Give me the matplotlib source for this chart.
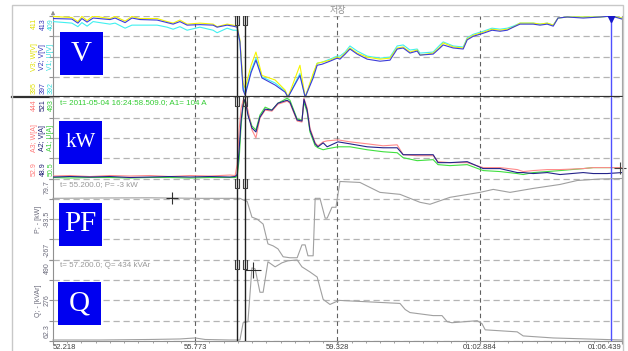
import matplotlib.pyplot as plt
import numpy as np
from matplotlib.patches import Rectangle
from matplotlib.path import Path
from matplotlib.ticker import FixedLocator

plt.rcParams['font.family'] = ['Liberation Sans', 'DejaVu Sans']

# time axis (seconds)
t_start, t_end = 52.218, 66.439
x_ticks = [52.218, 55.773, 59.328, 62.884, 66.439]
x_labels = ['52.218', '55.773', '59.328', '01:02.884', '01:06.439']
cursor_t = [56.82, 57.02]
blue_cursor_t = 66.17

# voltage panel (values on the V2 scale)
t_v = [52.218, 52.69, 52.84, 52.94, 53.07, 53.22, 53.64, 53.77, 54.02, 54.19, 54.39,
       54.82, 55.07, 55.22, 55.39, 55.57, 55.89, 56.22, 56.32, 56.57, 56.72, 56.82,
       56.89, 56.97, 57.02, 57.17, 57.29, 57.44, 57.77, 58.02, 58.09, 58.39,
       58.52, 58.72, 58.82, 58.94, 59.14, 59.32, 59.39, 59.52, 59.64, 59.82,
       60.07, 60.39, 60.64, 60.82, 60.97, 61.14, 61.32, 61.39, 61.72, 61.89,
       61.97, 62.22, 62.47, 62.57, 62.72, 62.97, 63.19, 63.39, 63.57, 63.72,
       63.89, 64.22, 64.39, 64.57, 64.72, 64.84, 65.07, 65.47, 65.89, 66.17, 66.439]
v3_w = [412.9, 412.7, 411.9, 412.9, 412.1, 413.0, 412.5, 412.9, 412.0, 412.9, 412.5,
        412.5, 411.9, 411.6, 412.2, 411.4, 411.6, 411.4, 410.9, 411.4, 411.2, 410.9,
        408.3, 399.8, 398.8, 403.3, 405.9, 401.3, 400.4, 398.4, 397.0, 403.3,
        397.0, 401.7, 403.7, 403.9, 404.3, 404.9, 404.7, 405.7, 406.7, 405.7,
        404.9, 404.5, 404.7, 406.7, 406.9, 405.9, 406.3, 405.3, 405.7, 406.9,
        407.7, 406.9, 406.7, 408.5, 409.2, 409.8, 410.4, 410.2, 410.4, 410.8,
        411.6, 411.6, 411.4, 411.6, 411.2, 412.6, 412.8, 412.8, 412.8, 413.0, 412.6]
v2_v = [412.5, 412.4, 411.6, 412.5, 411.8, 412.6, 412.3, 412.6, 411.7, 412.6, 412.3,
        412.2, 411.7, 411.4, 411.9, 411.2, 411.3, 411.2, 410.8, 411.2, 411.0, 410.8,
        407.9, 398.4, 397.4, 401.9, 404.3, 400.8, 399.4, 398.0, 397.0, 401.3,
        397.0, 400.8, 403.3, 403.5, 404.1, 404.7, 404.5, 405.5, 406.5, 405.5,
        404.5, 404.1, 404.3, 406.5, 406.7, 405.7, 406.1, 405.3, 405.5, 406.7,
        407.3, 406.7, 406.5, 408.3, 409.0, 409.6, 410.2, 410.0, 410.2, 410.8,
        411.4, 411.4, 411.2, 411.4, 411.0, 412.6, 412.8, 412.6, 412.8, 413.0, 412.4]
v1_u = [411.9, 411.6, 410.9, 411.7, 411.0, 411.9, 411.4, 411.6, 410.6, 411.2, 411.2,
        411.2, 410.8, 410.4, 410.9, 410.2, 410.8, 410.2, 409.7, 410.6, 410.2, 410.2,
        407.9, 398.8, 397.8, 402.3, 404.7, 401.0, 399.8, 398.2, 397.0, 401.7,
        397.0, 401.3, 403.7, 403.9, 404.5, 405.1, 405.1, 405.9, 407.1, 406.1,
        405.1, 404.7, 404.9, 407.1, 407.3, 406.3, 406.5, 405.7, 405.9, 407.3,
        407.9, 407.1, 406.9, 408.7, 409.4, 410.0, 410.6, 410.4, 410.6, 411.0,
        411.6, 411.6, 411.4, 411.6, 411.2, 412.6, 412.8, 412.8, 412.8, 413.0, 412.6]

# current / power panel (values on the A2 scale)
t_a = [52.218, 52.64, 53.14, 53.64, 54.14, 54.64, 55.14, 55.64, 56.14, 56.64, 56.77,
       56.82, 56.87, 56.92, 56.97, 57.02, 57.09, 57.19, 57.29, 57.39, 57.52,
       57.69, 57.84, 58.07, 58.14, 58.32, 58.44, 58.49, 58.57, 58.64, 58.77,
       58.84, 58.97, 59.07, 59.34, 59.64, 60.07, 60.47, 60.82, 60.97, 61.32,
       61.72, 61.84, 62.14, 62.57, 62.97, 63.39, 63.82, 63.97, 64.22, 64.57,
       64.89, 65.47, 65.72, 66.07, 66.439]
a3_w = [63.3, 66.2, 60.4, 66.2, 63.3, 66.2, 60.4, 66.2, 63.3, 69.0, 66.2,
        129.5, 331.0, 457.6, 503.7, 509.5, 446.1, 331.0, 284.9, 400.1, 446.1,
        440.4, 480.7, 498.0, 486.4, 382.8, 377.0, 515.2, 457.6, 342.5, 256.2,
        238.9, 261.9, 267.7, 273.4, 261.9, 250.4, 238.9, 244.6, 187.1, 181.3,
        181.3, 146.8, 141.0, 141.0, 112.2, 112.2, 100.7, 89.2, 95.0, 100.7,
        100.7, 106.5, 112.2, 112.2, 112.2]
a2_v = [57.5, 60.4, 57.5, 60.4, 54.7, 57.5, 60.4, 57.5, 60.4, 57.5, 60.4,
        71.9, 215.9, 388.6, 480.7, 509.5, 417.3, 342.5, 319.5, 405.8, 451.9,
        446.1, 486.4, 503.7, 492.2, 388.6, 382.8, 509.5, 446.1, 331.0, 250.4,
        233.1, 256.2, 233.1, 261.9, 250.4, 233.1, 227.4, 227.4, 187.1, 187.1,
        187.1, 141.0, 141.0, 146.8, 106.5, 106.5, 83.4, 83.4, 77.7, 83.4,
        71.9, 83.4, 77.7, 77.7, 83.4]
a1_u = [54.7, 51.8, 54.7, 54.7, 51.8, 54.7, 54.7, 51.8, 54.7, 54.7, 54.7,
        60.4, 158.3, 359.8, 474.9, 503.7, 428.9, 354.0, 331.0, 417.3, 463.4,
        446.1, 486.4, 515.2, 503.7, 394.3, 388.6, 492.2, 434.6, 319.5, 238.9,
        227.4, 215.9, 221.6, 233.1, 233.1, 215.9, 204.3, 198.6, 169.8, 152.5,
        158.3, 129.5, 123.7, 129.5, 95.0, 89.2, 77.7, 71.9, 83.4, 89.2,
        95.0, 106.5, 112.2, 112.2, 112.2]

# active power P [kW]
t_p = [52.218, 53.39, 54.64, 55.89, 56.64, 56.89, 56.99, 57.07, 57.19, 57.32,
       57.47, 57.59, 57.72, 57.84, 57.97, 58.14, 58.32, 58.44, 58.52, 58.59,
       58.72, 58.77, 58.89, 59.02, 59.07, 59.19, 59.29, 59.39, 59.89, 60.39,
       60.89, 61.39, 61.64, 62.14, 62.89, 63.22, 63.64, 64.22, 64.89, 65.32, 65.89, 66.439]
p_kw = [-4.9, -3.5, -2.7, -4.9, -4.9, -4.9, -13.3, -17.5, -85.2, -93.6,
        -114.8, -199.3, -207.8, -220.5, -254.3, -258.5, -258.5, -203.6, -203.6, -250.1,
        -250.1, -4.9, -4.9, -89.4, -89.4, -43.0, -43.0, 67.0, 62.8, 20.5,
        12.1, -21.8, -30.2, -0.6, 20.5, 33.2, 20.5, 37.4, 54.3, 71.2, 77.6, 79.7]

# reactive power Q [kVAr]
t_q = [52.218, 53.39, 54.64, 55.39, 55.77, 56.02, 56.64, 56.89, 56.97, 57.09,
       57.19, 57.27, 57.39, 57.47, 57.59, 57.77, 57.94, 58.09, 58.32, 58.44,
       58.64, 58.82, 58.97, 59.14, 59.37, 60.89, 61.02, 61.14, 61.72, 61.94,
       62.07, 62.19, 62.82, 62.94, 63.02, 63.82, 63.97, 64.72, 65.57, 66.439]
q_kvar = [67.6, 67.6, 70.3, 73.0, 78.3, 70.3, 67.6, 67.6, 158.5, 163.9,
          447.2, 441.9, 318.9, 318.9, 479.3, 452.6, 473.9, 484.6, 489.0, 452.6,
          425.8, 399.1, 281.5, 254.8, 276.1, 260.1, 228.0, 212.0, 196.0, 196.0,
          163.9, 158.5, 169.2, 153.2, 121.1, 110.4, 89.0, 78.3, 73.0, 67.6]

# y ranges of the four panels
y_ranges = [(397, 413), (48.9, 521), (-267, 79.7), (62.3, 490)]
panel_names = ['V', 'kW', 'PF', 'Q']

# axis label columns: (x pixel, colour, top, middle, bottom)
label_cols = [
    [(34, '#e0e000', '411', 'V3; W[V]', '395'),
     (43, '#3333bb', '413', 'V2; V[V]', '397'),
     (51, '#33dddd', '409', 'V1; U[V]', '392')],
    [(34, '#ff7a7a', '444', 'A3; W[A]', '52.9'),
     (43, '#1c1c70', '521', 'A2; V[A]', '48.9'),
     (51, '#33cc33', '493', 'A1; U[A]', '50.5')],
    [(39, '#6a6a7a', '', 'P; - [kW]', ''),
     (47, '#6a6a7a', '79.7', '-93.5', '-267')],
    [(39, '#6a6a7a', '', 'Q; - [kVAr]', ''),
     (47, '#6a6a7a', '490', '276', '62.3')],
]

W, H = 628, 351
fig = plt.figure(figsize=(W / 100, H / 100), dpi=100)
x0, x1 = 53, 622
gs = fig.add_gridspec(4, 1, left=x0 / W, right=x1 / W, top=1 - 16 / H,
                      bottom=1 - 341 / H, hspace=0)
axes = [fig.add_subplot(gs[i]) for i in range(4)]

grid_c = '#b4b4b4'
lw_data = 0.8
for i, ax in enumerate(axes):
    lo, hi = y_ranges[i]
    ax.set_xlim(t_start, t_end)
    ax.set_ylim(lo, hi)
    ax.set_yticks(np.linspace(lo, hi, 5))
    ax.tick_params(axis='y', length=3, color='#909090', labelleft=False)
    ax.yaxis.grid(True, color=grid_c, ls=(0, (5, 3)), lw=0.9)
    ax.set_axisbelow(True)
    for t in x_ticks[1:-1]:
        ax.axvline(t, color='#606060', ls=(0, (4, 3)), lw=0.8, zorder=1)
    for t in cursor_t:
        ax.axvline(t, color='#202020', lw=1.0, zorder=4)
        ax.plot([t], [hi - (hi - lo) * 0.05], marker=Path([(-0.35, -1), (0.35, -1), (0.35, 1),
                                                             (-0.35, 1), (-0.35, -1)]),
                ms=7, mfc='none', mec='#404040', mew=0.8, zorder=5)
    ax.axvline(blue_cursor_t, color='#5050ff', lw=1.0, zorder=4)
    for s in ['top', 'bottom']:
        ax.spines[s].set_visible(False)
    ax.spines['left'].set_color('#909090')
    ax.spines['right'].set_color('#a0a0a0')
    ax.tick_params(axis='x', which='both', bottom=False, labelbottom=False)

    # coloured scale labels on the left
    for xp, col, top_lbl, mid_lbl, bot_lbl in label_cols[i]:
        xa = (xp - x0) / (x1 - x0)
        kw = dict(transform=ax.transAxes, rotation=90, color=col, fontsize=5,
                  ha='center', clip_on=False)
        if top_lbl:
            ax.text(xa, 0.975, top_lbl, va='top', **kw)
        ax.text(xa, 0.5, mid_lbl, va='center', **kw)
        if bot_lbl:
            ax.text(xa, 0.035, bot_lbl, va='bottom', **kw)

# blue name boxes
box_pos = [(7, 0.27), (6, 0.18), (6, 0.17), (5, 0.195)]
for ax, name, (bx, by) in zip(axes, panel_names, box_pos):
    bw, bh = 43 / (x1 - x0), 43 / 81.25
    ax.add_patch(Rectangle((bx / (x1 - x0), by), bw, bh, transform=ax.transAxes,
                           fc='#0000f0', ec='none', zorder=6))
    fs = 15 if name == 'kW' else 21
    ax.text(bx / (x1 - x0) + bw / 2, by + bh / 2, name, transform=ax.transAxes,
            color='white', fontsize=fs, family='Liberation Serif',
            ha='center', va='center', zorder=7)

ax_v, ax_a, ax_p, ax_q = axes

# voltage lines
ax_v.plot(t_v, v1_u, color='#40f0f0', lw=lw_data, zorder=3)
ax_v.plot(t_v, v3_w, color='#f5f500', lw=lw_data, zorder=3)
ax_v.plot(t_v, v2_v, color='#3c3cd8', lw=lw_data, zorder=3)
ax_v.axhline(397, xmin=-41 / (x1 - x0), xmax=1, color='#303030', lw=1.6,
             clip_on=False, zorder=5)
ax_v.plot([blue_cursor_t], [412.6], marker='v', color='#1818c8', ms=6, zorder=6)
ax_v.annotate('', xy=(0, 1.1), xytext=(0, 0.98), xycoords='axes fraction',
              arrowprops=dict(arrowstyle='-|>', color='#909090', lw=0.8,
                              mutation_scale=5))

# current lines
ax_a.plot(t_a, a1_u, color='#40e040', lw=lw_data, zorder=3)
ax_a.plot(t_a, a3_w, color='#ff8a8a', lw=lw_data, zorder=3)
ax_a.plot(t_a, a2_v, color='#24248a', lw=lw_data, zorder=3)
ax_a.plot([66.40], [112.2], marker='+', ms=8, color='#404040', mew=0.8,
          clip_on=False, zorder=6)
ax_a.text(7 / (x1 - x0), 0.93, 't= 2011-05-04 16:24:58.509.0; A1= 104 A',
          transform=ax_a.transAxes, color='#33cc33', fontsize=5.8, va='center')

# P and Q lines
ax_p.plot(t_p, p_kw, color='#a0a0a0', lw=lw_data, zorder=3, clip_on=False)
ax_p.plot([55.19], [-3], marker='+', ms=9, color='#303030', mew=0.8, zorder=6)
ax_p.text(7 / (x1 - x0), 0.93, 't= 55.200.0; P= -3 kW', transform=ax_p.transAxes,
          color='#999999', fontsize=5.8, va='center')

ax_q.plot(t_q, q_kvar, color='#a0a0a0', lw=lw_data, zorder=3, clip_on=False)
ax_q.plot([57.22], [434], marker='+', ms=11, color='#303030', mew=0.8, zorder=6)
ax_q.text(7 / (x1 - x0), 0.935, 't= 57.200.0; Q= 434 kVAr', transform=ax_q.transAxes,
          color='#999999', fontsize=5.8, va='center')

# bottom time axis
ax_q.spines['bottom'].set_visible(True)
ax_q.spines['bottom'].set_color('#909090')
ax_q.set_xticks(x_ticks)
ax_q.set_xticklabels(x_labels)
ax_q.xaxis.set_minor_locator(FixedLocator(np.linspace(t_start, t_end, 41)))
ax_q.tick_params(axis='x', which='both', bottom=True, labelbottom=True,
                 color='#909090', labelsize=5.5, labelcolor='#404040', pad=0.3)
ax_q.tick_params(axis='x', which='major', length=2)
ax_q.tick_params(axis='x', which='minor', length=1.5)
tl = ax_q.get_xticklabels()
tl[0].set_ha('left')
tl[-1].set_ha('right')

# title text and outer frame
fig.text(338 / W, 1 - 11 / H, '저장', color='#909090', fontsize=6.5,
         family=['Noto Sans CJK KR', 'DejaVu Sans'], ha='center', va='center')
fig.add_artist(Rectangle((12 / W, -0.02), 611 / W, 1.02 - 5 / H, transform=fig.transFigure,
                         fill=False, ec='#c8c8c8', lw=1.0))

fig.savefig('out.png', dpi=100)
